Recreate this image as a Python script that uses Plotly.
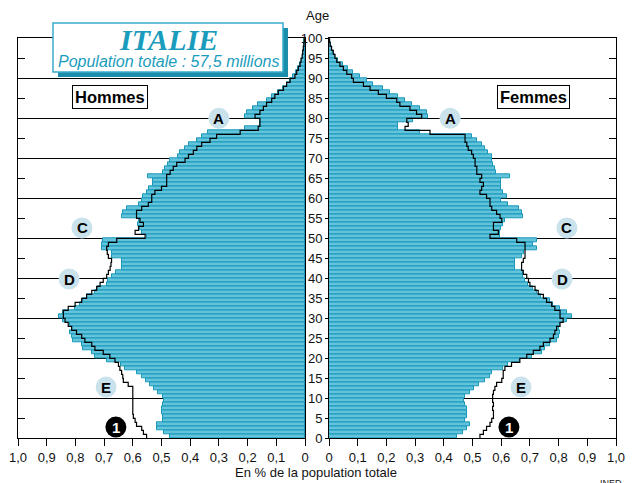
import plotly.graph_objects as go

# ages 0..100 (one bar per single year of age, bars for 0..99)
ages = list(range(0, 101))
bar_ages = ages[:100]

# % of total population, men (left) and women (right), ages 0..99
hommes = [0.470, 0.490, 0.515, 0.515, 0.495, 0.495, 0.497, 0.497, 0.495, 0.493,
          0.494, 0.511, 0.526, 0.540, 0.554, 0.569, 0.587, 0.627, 0.642, 0.690,
          0.730, 0.743, 0.772, 0.778, 0.807, 0.813, 0.819, 0.813, 0.820, 0.843,
          0.856, 0.842, 0.800, 0.784, 0.772, 0.761, 0.732, 0.720, 0.690, 0.685,
          0.674, 0.660, 0.639, 0.639, 0.639, 0.674, 0.674, 0.708, 0.708, 0.705,
          0.552, 0.569, 0.575, 0.581, 0.580, 0.639, 0.635, 0.620, 0.577, 0.569,
          0.563, 0.552, 0.542, 0.531, 0.528, 0.546, 0.494, 0.488, 0.476, 0.470,
          0.441, 0.436, 0.418, 0.403, 0.377, 0.360, 0.337, 0.209, 0.157, 0.157,
          0.209, 0.203, 0.180, 0.163, 0.134, 0.116, 0.093, 0.075, 0.064, 0.052,
          0.041, 0.031, 0.023, 0.017, 0.012, 0.008, 0.006, 0.004, 0.003, 0.002]

femmes = [0.445, 0.468, 0.480, 0.491, 0.474, 0.480, 0.480, 0.480, 0.474, 0.471,
          0.474, 0.490, 0.505, 0.524, 0.543, 0.561, 0.567, 0.607, 0.625, 0.665,
          0.706, 0.741, 0.753, 0.770, 0.793, 0.800, 0.805, 0.800, 0.805, 0.828,
          0.845, 0.828, 0.805, 0.782, 0.770, 0.737, 0.724, 0.712, 0.695, 0.683,
          0.677, 0.675, 0.648, 0.648, 0.648, 0.671, 0.680, 0.724, 0.712, 0.724,
          0.596, 0.596, 0.600, 0.607, 0.613, 0.675, 0.671, 0.662, 0.622, 0.600,
          0.619, 0.605, 0.600, 0.600, 0.600, 0.631, 0.582, 0.578, 0.573, 0.567,
          0.567, 0.555, 0.544, 0.532, 0.515, 0.497, 0.317, 0.242, 0.242, 0.294,
          0.346, 0.340, 0.317, 0.288, 0.265, 0.242, 0.213, 0.189, 0.154, 0.131,
          0.108, 0.085, 0.067, 0.050, 0.033, 0.021, 0.015, 0.010, 0.006, 0.004]

# black step outline (reference profile), ages 0..100
hommes_ref = [0.552, 0.563, 0.569, 0.587, 0.592, 0.598, 0.600, 0.600, 0.600, 0.600,
              0.600, 0.600, 0.600, 0.616, 0.633, 0.635, 0.639, 0.645, 0.650, 0.662,
              0.680, 0.703, 0.732, 0.743, 0.767, 0.778, 0.796, 0.813, 0.825, 0.836,
              0.842, 0.842, 0.825, 0.801, 0.778, 0.761, 0.743, 0.726, 0.714, 0.703,
              0.691, 0.685, 0.679, 0.676, 0.674, 0.685, 0.689, 0.691, 0.685, 0.656,
              0.557, 0.592, 0.580, 0.563, 0.575, 0.587, 0.587, 0.569, 0.546, 0.534,
              0.534, 0.523, 0.500, 0.482, 0.482, 0.482, 0.470, 0.459, 0.447, 0.418,
              0.406, 0.389, 0.377, 0.360, 0.331, 0.308, 0.226, 0.163, 0.157, 0.157,
              0.174, 0.157, 0.145, 0.134, 0.116, 0.105, 0.093, 0.075, 0.064, 0.052,
              0.035, 0.029, 0.023, 0.017, 0.014, 0.010, 0.008, 0.006, 0.004, 0.002,
              0.001]

femmes_ref = [0.526, 0.538, 0.549, 0.561, 0.567, 0.573, 0.573, 0.570, 0.573, 0.570,
              0.570, 0.573, 0.578, 0.584, 0.602, 0.607, 0.607, 0.613, 0.636, 0.665,
              0.689, 0.712, 0.735, 0.747, 0.770, 0.782, 0.787, 0.793, 0.805, 0.816,
              0.805, 0.805, 0.787, 0.776, 0.758, 0.747, 0.729, 0.718, 0.700, 0.695,
              0.689, 0.677, 0.671, 0.671, 0.677, 0.683, 0.683, 0.683, 0.683, 0.654,
              0.561, 0.590, 0.573, 0.573, 0.602, 0.596, 0.584, 0.567, 0.561, 0.561,
              0.549, 0.526, 0.532, 0.538, 0.526, 0.532, 0.515, 0.515, 0.509, 0.509,
              0.503, 0.497, 0.485, 0.480, 0.474, 0.474, 0.352, 0.265, 0.276, 0.271,
              0.323, 0.305, 0.282, 0.247, 0.236, 0.200, 0.172, 0.143, 0.120, 0.085,
              0.079, 0.062, 0.050, 0.038, 0.027, 0.021, 0.015, 0.009, 0.004, 0.002,
              0.000]

age_ticks = list(range(0, 101, 5))
pct_ticks = [i / 10 for i in range(11)]
pct_labels = ['0'] + ['0,%d' % i for i in range(1, 10)] + ['1,0']

# explanatory markers (letter, value, age) on each side
marks_h = [('A', 0.300, 80), ('C', 0.777, 52.6), ('D', 0.822, 39.8), ('E', 0.693, 12.8), ('1', 0.659, 2.8)]
marks_f = [('A', 0.422, 80), ('C', 0.829, 52.6), ('D', 0.812, 39.8), ('E', 0.669, 12.8), ('1', 0.627, 2.8)]

bar_fill = '#62c3da'
bar_edge = '#1897b9'
teal = '#1a9cbd'
W, H = 635, 483

fig = go.Figure()

fig.add_bar(x=hommes, y=[a + 0.5 for a in bar_ages], orientation='h', width=1,
            marker=dict(color=bar_fill, line=dict(color=bar_edge, width=1)),
            xaxis='x', yaxis='y', showlegend=False, name='Hommes')
fig.add_bar(x=femmes, y=[a + 0.5 for a in bar_ages], orientation='h', width=1,
            marker=dict(color=bar_fill, line=dict(color=bar_edge, width=1)),
            xaxis='x2', yaxis='y2', showlegend=False, name='Femmes')
fig.add_scatter(x=hommes_ref, y=ages, mode='lines',
                line=dict(color='black', width=1.2, shape='vh'),
                xaxis='x', yaxis='y', showlegend=False, hoverinfo='skip')
# women's outline lives on the overlaying age axis (same 0-100 scale) so its labels get drawn
fig.add_scatter(x=femmes_ref, y=ages, mode='lines',
                line=dict(color='black', width=1.2, shape='vh'),
                xaxis='x2', yaxis='y3', showlegend=False, hoverinfo='skip')

ydom = [44.7 / H, 444.7 / H]
tickfont = dict(family='Liberation Sans, Arial', size=13, color='#111')

xcommon = dict(tickvals=pct_ticks, ticktext=pct_labels, ticks='outside', ticklen=7,
               tickcolor='black', showline=True, linecolor='black', linewidth=1,
               mirror=True, showgrid=False, zeroline=False, tickfont=tickfont,
               automargin=False, fixedrange=True)
ycommon = dict(range=[0, 100], tickvals=list(range(10, 101, 10)), showgrid=True,
               gridcolor='black', gridwidth=1, showticklabels=False, ticks='',
               showline=True, linecolor='black', linewidth=1, mirror=True,
               zeroline=False, automargin=False, domain=ydom,
               minor=dict(tickvals=list(range(5, 100, 10)), ticks='inside', ticklen=7,
                          tickcolor='black', showgrid=False))


def note(text, x, y, **kw):
    d = dict(text=text, x=x, y=y, xref='paper', yref='paper', showarrow=False,
             xanchor='center', yanchor='middle')
    d.update(kw)
    return d


annotations = [
    note('Age', 317 / W, 1 - 16 / H, font=tickfont),
    note('En % de la population totale', 316 / W, 1 - 472 / H, font=tickfont),
    note('INED', 611 / W, 1 - 476 / H, yanchor='top',
         font=dict(family='Liberation Sans, Arial', size=9, color='#222')),
    note('<b><i>ITALIE</i></b>', 168 / W, 1 - 39 / H,
         font=dict(family='Liberation Serif, Times New Roman', size=30, color=teal)),
    note('<i>Population totale : 57,5 millions</i>', 168 / W, 1 - 62 / H,
         font=dict(family='Liberation Sans, Arial', size=16, color=teal)),
    note('<b>Hommes</b>', 110 / W, 1 - 97 / H, bgcolor='white', bordercolor='black',
         borderwidth=1, borderpad=2,
         font=dict(family='Liberation Sans, Arial', size=16.5, color='black')),
    note('<b>Femmes</b>', 533 / W, 1 - 97 / H, bgcolor='white', bordercolor='black',
         borderwidth=1, borderpad=2,
         font=dict(family='Liberation Sans, Arial', size=16.5, color='black')),
]

shapes = [
    # title box shadow and box
    dict(type='rect', xref='paper', yref='paper', x0=58 / W, x1=288 / W,
         y0=1 - 77 / H, y1=1 - 28 / H, fillcolor='#1b8eab', line=dict(width=0)),
    dict(type='rect', xref='paper', yref='paper', x0=53 / W, x1=283 / W,
         y0=1 - 72 / H, y1=1 - 23 / H, fillcolor='white', line=dict(color='#3aaccc', width=1.5)),
]

for side, marks in (('', marks_h), ('2', marks_f)):
    for letter, v, a in marks:
        dark = letter == '1'
        shapes.append(dict(type='circle', xref='x' + side, yref='y' + side,
                           xsizemode='pixel', ysizemode='pixel', xanchor=v, yanchor=a,
                           x0=-10.5, x1=10.5, y0=-10.5, y1=10.5,
                           fillcolor='black' if dark else '#c9e2eb', line=dict(width=0)))
        annotations.append(dict(text='<b>%s</b>' % letter, x=v, y=a,
                                xref='x' + side, yref='y' + side, showarrow=False,
                                xanchor='center', yanchor='middle',
                                font=dict(family='Liberation Sans, Arial', size=15,
                                          color='white' if dark else 'black')))

fig.update_layout(
    width=W, height=H,
    margin=dict(l=0, r=0, t=0, b=0),
    paper_bgcolor='white', plot_bgcolor='white',
    bargap=0,
    xaxis=dict(domain=[18 / W, 305 / W], range=[1.0, 0], anchor='y', **xcommon),
    yaxis=dict(anchor='x', side='left', **ycommon),
    xaxis2=dict(domain=[329 / W, 616 / W], range=[0, 1.0], anchor='y2', **xcommon),
    yaxis2=dict(anchor='x2', side='right', **ycommon),
    yaxis3=dict(overlaying='y2', anchor='x2', side='left', range=[0, 100],
                tickvals=age_ticks, ticks='outside', ticklen=3, tickcolor='black',
                showgrid=False, showline=False, zeroline=False, tickfont=tickfont,
                automargin=False),
    annotations=annotations,
    shapes=shapes,
)

fig.write_html("out.html", config={'displayModeBar': False},
               post_script="document.body.style.margin='0';")
